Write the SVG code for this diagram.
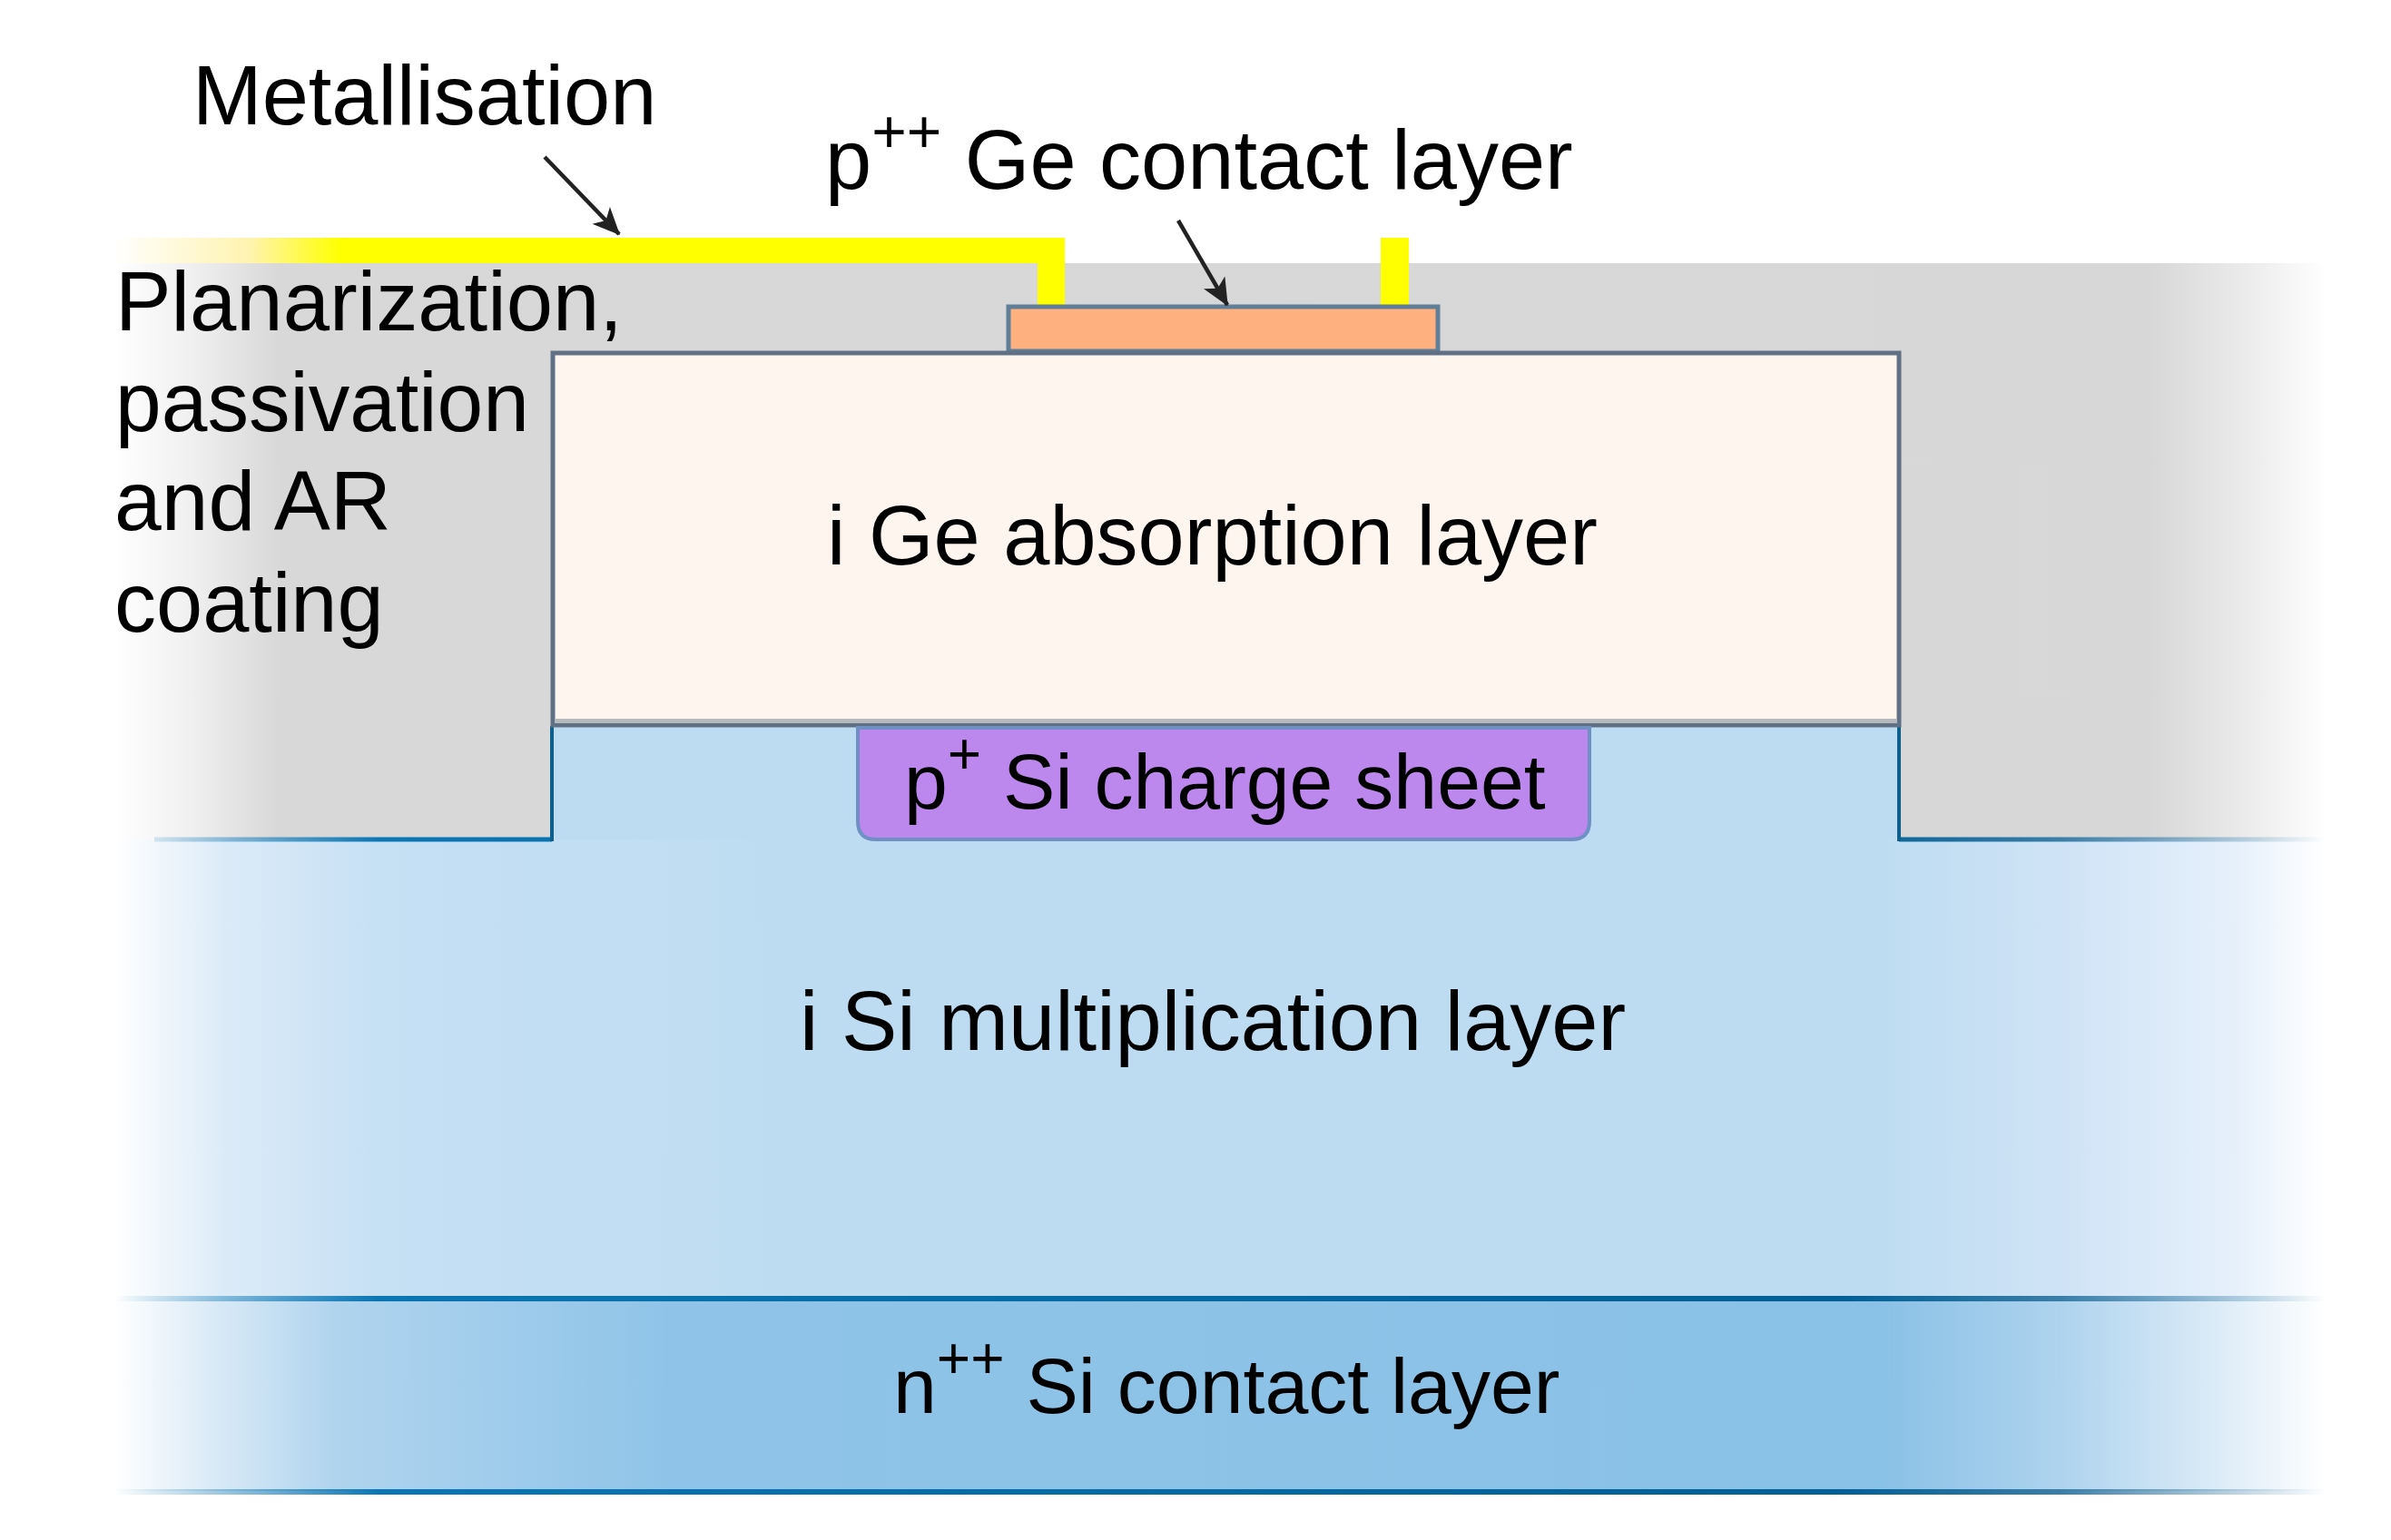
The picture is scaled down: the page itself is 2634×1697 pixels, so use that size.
<svg xmlns="http://www.w3.org/2000/svg" width="2634" height="1697" viewBox="0 0 2634 1697">
<defs>
<linearGradient id="gGray" gradientUnits="userSpaceOnUse" x1="125" y1="0" x2="2562" y2="0">
<stop offset="0" stop-color="#fff"/><stop offset="0.035" stop-color="#f0f0f0"/><stop offset="0.075" stop-color="#d8d8d8"/><stop offset="0.92" stop-color="#d7d7d7"/><stop offset="0.97" stop-color="#eeeeee"/><stop offset="1" stop-color="#fff"/>
</linearGradient>
<linearGradient id="gMid" gradientUnits="userSpaceOnUse" x1="125" y1="0" x2="2562" y2="0">
<stop offset="0" stop-color="#fff"/><stop offset="0.05" stop-color="#dcebf8"/><stop offset="0.12" stop-color="#c6e0f4"/><stop offset="0.3" stop-color="#bedcf1"/><stop offset="0.8" stop-color="#bedcf1"/><stop offset="0.88" stop-color="#cfe3f6"/><stop offset="0.96" stop-color="#e6f0fb"/><stop offset="1" stop-color="#fff"/>
</linearGradient>
<linearGradient id="gDark" gradientUnits="userSpaceOnUse" x1="125" y1="0" x2="2562" y2="0">
<stop offset="0" stop-color="#fff"/><stop offset="0.05" stop-color="#d6e8f6"/><stop offset="0.1" stop-color="#b0d4ee"/><stop offset="0.25" stop-color="#8fc4e8"/><stop offset="0.8" stop-color="#8ac1e6"/><stop offset="0.88" stop-color="#aed3ee"/><stop offset="0.95" stop-color="#dbebf7"/><stop offset="1" stop-color="#fff"/>
</linearGradient>
<linearGradient id="gLineA" gradientUnits="userSpaceOnUse" x1="125" y1="0" x2="2562" y2="0">
<stop offset="0" stop-color="#0b76b4" stop-opacity="0"/><stop offset="0.12" stop-color="#0b76b4"/><stop offset="0.78" stop-color="#005f96"/><stop offset="0.88" stop-color="#3a7ea8"/><stop offset="1" stop-color="#3a7ea8" stop-opacity="0"/>
</linearGradient>
<linearGradient id="gYellow" gradientUnits="userSpaceOnUse" x1="125" y1="0" x2="375" y2="0">
<stop offset="0" stop-color="#ffffff"/><stop offset="0.6" stop-color="#fff3b0"/><stop offset="1" stop-color="#ffff00"/>
</linearGradient>
<marker id="ah" viewBox="0 0 10 10" refX="9.5" refY="5" markerWidth="30" markerHeight="30" markerUnits="userSpaceOnUse" orient="auto">
<path d="M0,0.5 L10,5 L0,9.5 L2.5,5 Z" fill="#222"/>
</marker>
</defs>
<style>
text{font-family:"Liberation Sans",Arial,sans-serif;font-size:92px;fill:#000}
.sup{font-size:66px}
.arrow{stroke:#222;stroke-width:4.5;fill:none;marker-end:url(#ah)}
</style>
<rect width="2634" height="1697" fill="#fff"/>
<g id="planarization">
<rect x="125" y="290" width="2437" height="635" fill="url(#gGray)"/>
<text x="127" y="364" textLength="559" lengthAdjust="spacingAndGlyphs">Planarization,</text>
<text x="127" y="475" textLength="456" lengthAdjust="spacingAndGlyphs">passivation</text>
<text x="126" y="584" textLength="305" lengthAdjust="spacingAndGlyphs">and AR</text>
<text x="126" y="696">coating</text>
</g>
<g id="i-si-multiplication-layer">
<rect x="125" y="925" width="2437" height="505" fill="url(#gMid)"/>
<path d="M609,799H2092V925H609Z" fill="#bedcf1"/>
<path d="M170,925H608M2092,925H2562" fill="none" stroke="url(#gLineA)" stroke-width="5"/>
<path d="M608,800V927M2092,800V927" fill="none" stroke="#0f5f8c" stroke-width="4"/>
<text x="881" y="1157">i Si multiplication layer</text>
</g>
<g id="n-si-contact-layer">
<rect x="125" y="1430" width="2437" height="213" fill="url(#gDark)"/>
<rect x="125" y="1428" width="2437" height="6" fill="url(#gLineA)"/>
<rect x="125" y="1641" width="2437" height="6" fill="url(#gLineA)"/>
<text x="984" y="1557" style="font-size:86px">n<tspan style="font-size:64px" dy="-38">++</tspan><tspan dy="38"> Si contact layer</tspan></text>
</g>
<g id="metallisation">
<path d="M125,262H1173V340H1143V290H125Z" fill="url(#gYellow)"/>
<path d="M375,262H1173V340H1143V290H375Z" fill="#ffff00"/>
<rect x="1521" y="262" width="31" height="78" fill="#ffff00"/>
<text x="212" y="137">Metallisation</text>
</g>
<g id="p-ge-contact-layer">
<rect x="1111" y="338" width="473" height="49" fill="#ffb07f" stroke="#5e7f97" stroke-width="5"/>
<text x="909" y="208">p<tspan class="sup" dy="-40">++</tspan><tspan dy="40"> Ge contact layer</tspan></text>
</g>
<g id="i-ge-absorption-layer">
<rect x="609" y="389" width="1483" height="410" fill="#fef5ee" stroke="#607085" stroke-width="5"/>
<rect x="611" y="792" width="1479" height="5" fill="#b5b8bd"/>
<text x="911" y="622">i Ge absorption layer</text>
</g>
<g id="p-si-charge-sheet">
<path d="M945,802H1751V905Q1751,925 1731,925H965Q945,925 945,905Z" fill="#bd88ee" stroke="#6f90c4" stroke-width="4"/>
<text x="996" y="891" style="font-size:86px">p<tspan style="font-size:64px" dy="-38">+</tspan><tspan dy="38"> Si charge sheet</tspan></text>
</g>
<g id="connectors">
<line class="arrow" x1="600" y1="173" x2="682" y2="258"/>
<line class="arrow" x1="1298" y1="243" x2="1352" y2="336"/>
</g>
</svg>
